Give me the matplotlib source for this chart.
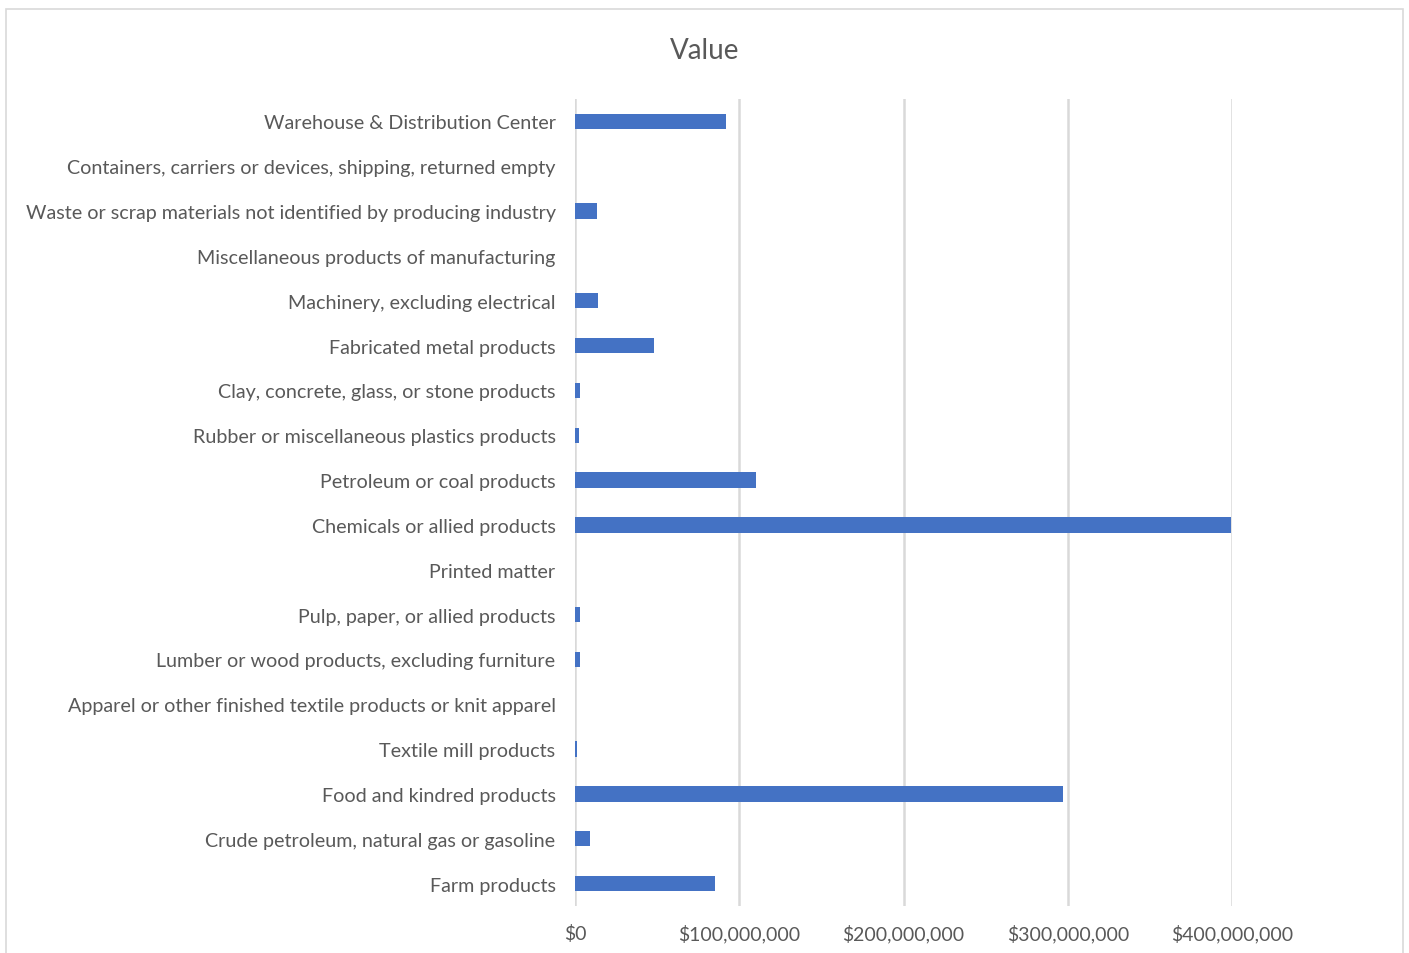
import matplotlib
matplotlib.use("Agg")
import matplotlib.pyplot as plt
from matplotlib.patches import Rectangle
from matplotlib.ticker import FuncFormatter

# categories listed bottom to top, as drawn
categories = [
    "Farm products",
    "Crude petroleum, natural gas or gasoline",
    "Food and kindred products",
    "Textile mill products",
    "Apparel or other finished textile products or knit apparel",
    "Lumber or wood products, excluding furniture",
    "Pulp, paper, or allied products",
    "Printed matter",
    "Chemicals or allied products",
    "Petroleum or coal products",
    "Rubber or miscellaneous plastics products",
    "Clay, concrete, glass, or stone products",
    "Fabricated metal products",
    "Machinery, excluding electrical",
    "Miscellaneous products of manufacturing",
    "Waste or scrap materials not identified by producing industry",
    "Containers, carriers or devices, shipping, returned empty",
    "Warehouse & Distribution Center",
]
values = [
    85.3e6, 9.4e6, 297e6, 1.2e6, 0, 3.2e6, 3.2e6, 0, 399.5e6, 110.4e6,
    2.2e6, 3.2e6, 48.4e6, 14.3e6, 0, 13.5e6, 0, 92e6,
]
x_ticks = [0, 100e6, 200e6, 300e6, 400e6]

text_color = "#595959"
grid_color = "#d9d9d9"
bar_color = "#4472c4"

plt.rcParams["font.family"] = ["Lato", "DejaVu Sans"]

fig = plt.figure(figsize=(14.09, 9.54), dpi=100)
fig.patches.append(Rectangle((6 / 1409, -0.05), 1397 / 1409, 1.05 - 10 / 954,
                             transform=fig.transFigure, fill=False,
                             edgecolor=grid_color, linewidth=1.2))

ax = fig.add_axes([575 / 1409, 1 - 907 / 954, (1232 - 575) / 1409, (907 - 100) / 954])
y = list(range(len(categories)))
ax.barh(y, values, height=0.34, color=bar_color, zorder=3)

ax.set_xlim(0, 400e6)
ax.set_ylim(-0.5, len(categories) - 0.5)
ax.set_xticks(x_ticks)
ax.xaxis.set_major_formatter(FuncFormatter(lambda v, p: "${:,.0f}".format(v)))
ax.set_yticks(y)
ax.set_yticklabels(categories)
ax.grid(axis="x", color=grid_color, linewidth=1.8, zorder=0)
ax.tick_params(axis="y", length=0, labelsize=14.2, colors=text_color, pad=14)
ax.tick_params(axis="x", length=0, labelsize=14, colors=text_color, pad=13)
for s in ax.spines.values():
    s.set_visible(False)

fig.text(705 / 1409, 1 - 51 / 954, "Value", ha="center", va="center",
         fontsize=20, color=text_color)

fig.savefig("out.png", dpi=100)
